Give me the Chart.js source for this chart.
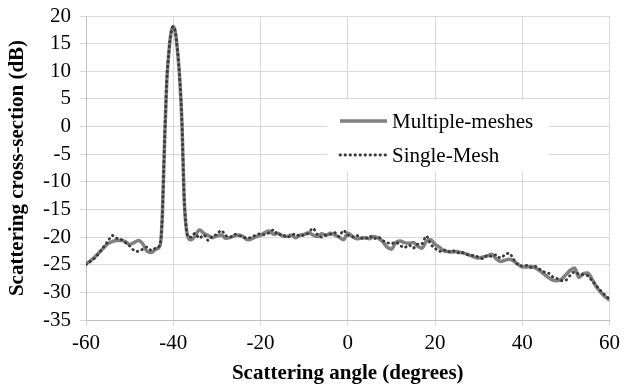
<!DOCTYPE html>
<html>
<head>
<meta charset="utf-8">
<script src="https://cdn.jsdelivr.net/npm/chart.js@4"></script>
<style>
  body { margin: 0; background: #fff; }
  #wrap { width: 625px; height: 388px; }
</style>
</head>
<body>
<div id="wrap"><canvas id="rcsChart"></canvas></div>
<script>
// angles (deg) and values (dB)
const angles = [-60,-59,-58,-57,-56,-55,-54,-53,-52,-51,-50,-49,-48,-47,-46,-45,-44,-43,
  -42.5,-42,-41.5,-41,-40.5,-40,-39.5,-39,-38.5,-38,-37.5,-37,-36.5,
  -36,-35,-34,-33,-32,-31,-30,-29,-28,-27,-26,-25,-24,-23,-22,-21,-20,-19,-18,-17,-16,-15,-14,-13,-12,-11,-10,
  -9,-8,-7,-6,-5,-4,-3,-2,-1,0,1,2,3,4,5,6,7,8,9,10,11,12,13,14,15,16,17,18,19,20,
  21,22,23,24,25,26,27,28,29,30,31,32,33,34,35,36,37,38,39,40,41,42,43,44,45,46,47,48,49,50,
  51,52,53,54,55,56,57,58,59,60];

const multipleMeshes = [-24.8,-24.3,-23.6,-22.8,-22.0,-21.2,-20.8,-20.6,-20.6,-20.8,-21.3,-21.0,-20.6,-21.2,-22.6,-22.8,-22.2,-21.5,
  -16,-3,8,13.5,17,18.1,17,13.5,8.5,0.5,-13,-18.5,-20.2,
  -20.5,-19.8,-18.7,-19.3,-19.7,-20.1,-19.8,-19.6,-20.2,-20.1,-19.8,-19.6,-19.9,-20.5,-20.3,-19.9,-19.7,-19.2,-18.9,-19.5,-19.3,-19.8,-19.9,-19.6,-20.1,-19.7,-19.5,
  -19.2,-19.6,-19.9,-19.4,-19.7,-19.3,-19.6,-20.0,-20.5,-19.3,-19.8,-20.3,-20.2,-20.1,-20.3,-19.9,-20.2,-20.8,-21.8,-22.2,-21.0,-20.7,-21.0,-21.1,-21.0,-21.6,-22.0,-20.8,-20.5,-21.3,
  -21.8,-22.5,-22.6,-22.7,-22.6,-22.8,-23.0,-23.3,-23.6,-23.8,-23.6,-23.4,-23.1,-23.9,-24.4,-24.2,-24.0,-24.3,-24.9,-25.4,-25.4,-25.3,-25.6,-26.1,-26.7,-27.3,-27.8,-27.9,-27.6,-26.8,
  -26.0,-25.6,-27.3,-26.6,-26.5,-27.6,-29.0,-30.0,-30.8,-31.4];

const singleMesh = [-25.0,-24.4,-23.8,-22.9,-21.8,-20.8,-19.7,-20.2,-20.4,-21.0,-21.6,-22.4,-22.6,-22.2,-21.8,-22.4,-22.0,-21.2,
  -16,-3,8,13.5,17,18.1,17,13.5,8.5,0.5,-13,-18.5,-20.0,
  -20.0,-19.3,-20.2,-19.6,-20.6,-19.8,-19.5,-18.8,-19.7,-20.0,-19.5,-19.7,-20.0,-20.2,-20.0,-19.6,-19.4,-19.6,-19.2,-18.7,-19.6,-19.5,-20.0,-19.8,-19.4,-19.8,-19.6,
  -19.3,-18.4,-19.5,-20.0,-19.6,-19.5,-19.2,-19.9,-18.8,-19.6,-20.0,-19.7,-20.1,-20.3,-19.8,-20.3,-20.0,-20.6,-21.0,-21.2,-20.9,-21.5,-21.9,-21.4,-22.0,-21.3,-21.2,-19.8,-21.3,-22.0,
  -22.6,-22.3,-22.7,-22.4,-22.9,-22.7,-23.1,-23.2,-23.4,-23.6,-23.9,-23.3,-23.5,-23.2,-23.8,-23.2,-22.9,-24.0,-25.0,-25.2,-25.1,-25.5,-25.3,-25.8,-26.3,-26.5,-27.2,-27.5,-27.9,-27.8,
  -26.9,-26.3,-26.7,-26.8,-27.0,-27.9,-28.8,-29.7,-30.5,-31.2];

const seriesNames = ['Multiple-meshes', 'Single-Mesh'];

const serif = "'Liberation Serif', 'Times New Roman', serif";

function toPoints(ys) {
    return angles.map(function(a, i) { return { x: a, y: ys[i] }; });
}

// legend box drawn inside the plot, over the gridlines
const boxLegend = {
    id: 'boxLegend',
    afterDraw: function(chart) {
        const ctx = chart.ctx;
        ctx.save();
        ctx.fillStyle = '#fff';
        ctx.fillRect(327, 100, 222, 72);
        ctx.font = '21px ' + serif;
        ctx.textBaseline = 'middle';
        ctx.fillStyle = '#000';
        const rows = [121, 155];
        chart.data.datasets.forEach(function(ds, i) {
            const y = rows[i];
            ctx.strokeStyle = ds.borderColor;
            ctx.lineWidth = ds.borderWidth;
            ctx.lineCap = ds.borderCapStyle || 'butt';
            ctx.setLineDash(ds.borderDash || []);
            ctx.beginPath();
            ctx.moveTo(340, y);
            ctx.lineTo(387, y);
            ctx.stroke();
            ctx.setLineDash([]);
            ctx.fillText(ds.label, 392, y + 1);
        });
        ctx.restore();
    }
};

document.addEventListener('DOMContentLoaded', function() {
    const el = document.getElementById('rcsChart');
    new Chart(el, {
        type: 'line',
        data: {
            datasets: [{
                label: seriesNames[0],
                data: toPoints(multipleMeshes),
                borderColor: '#808080',
                borderWidth: 3.5,
                borderCapStyle: 'butt',
                pointRadius: 0,
                cubicInterpolationMode: 'monotone',
                order: 2
            }, {
                label: seriesNames[1],
                data: toPoints(singleMesh),
                borderColor: '#3a3a3a',
                borderWidth: 2.8,
                borderDash: [0.5, 4.5],
                borderCapStyle: 'round',
                pointRadius: 0,
                cubicInterpolationMode: 'monotone',
                order: 1
            }]
        },
        options: {
            responsive: true,
            maintainAspectRatio: false,
            animation: false,
            layout: { padding: { left: 0, right: 15, top: 16, bottom: 0 } },
            plugins: { legend: { display: false }, tooltip: { enabled: false } },
            scales: {
                x: {
                    type: 'linear',
                    min: -60, max: 60,
                    ticks: { stepSize: 20, autoSkip: false, maxRotation: 0, color: '#000', font: { family: serif, size: 21 }, padding: 5 },
                    grid: { color: '#d9d9d9', tickLength: 6 },
                    border: { color: '#bfbfbf' },
                    title: {
                        display: true,
                        text: 'Scattering angle (degrees)',
                        color: '#000',
                        font: { family: serif, size: 21, weight: 'bold' },
                        padding: { top: 0, bottom: 2 }
                    },
                    afterFit: function(scale) { scale.height = 68; }
                },
                y: {
                    min: -35, max: 20,
                    ticks: { stepSize: 5, autoSkip: false, color: '#000', font: { family: serif, size: 21, lineHeight: 1 }, padding: 9 },
                    grid: { color: '#d9d9d9', tickLength: 6 },
                    border: { color: '#bfbfbf' },
                    title: {
                        display: true,
                        text: 'Scattering cross-section (dB)',
                        color: '#000',
                        font: { family: serif, size: 21, weight: 'bold' },
                        padding: { top: 5, bottom: 0 }
                    },
                    afterFit: function(scale) {
                        scale.width = 86;
                        scale.paddingTop = 0;
                        scale.paddingBottom = 0;
                    }
                }
            }
        },
        plugins: [boxLegend]
    });
});
</script>
</body>
</html>
